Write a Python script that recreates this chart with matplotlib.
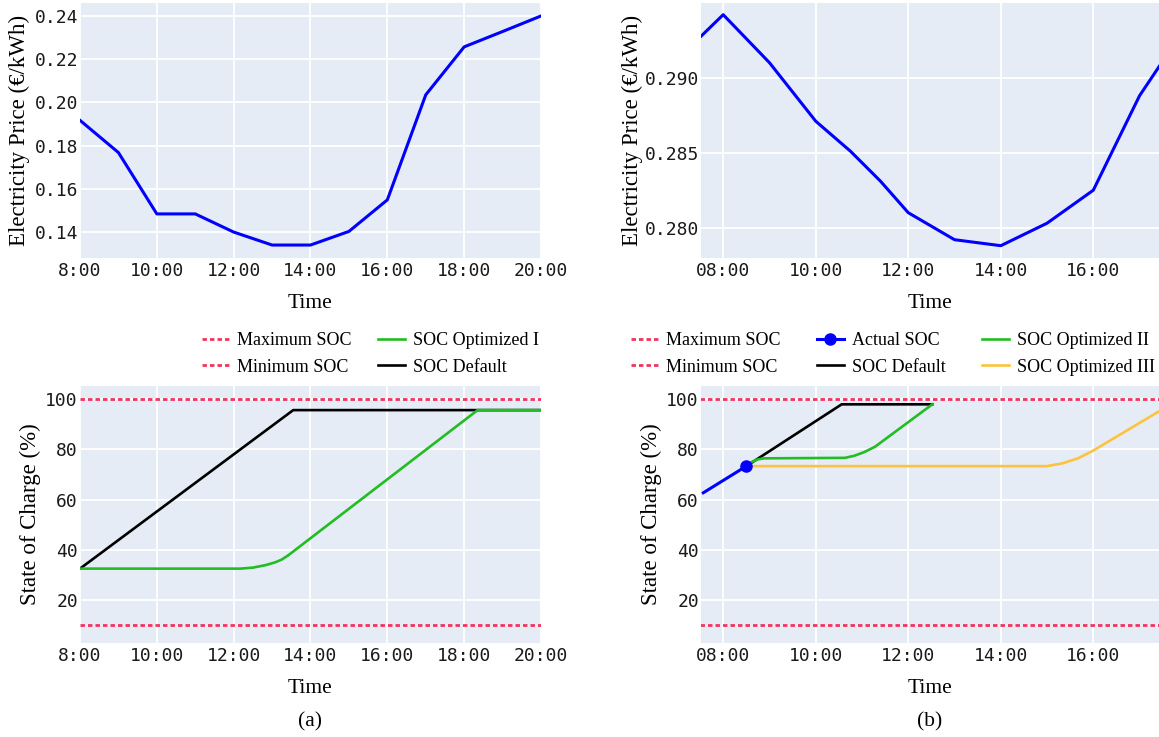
import matplotlib
matplotlib.use("Agg")
import matplotlib.pyplot as plt
from matplotlib.lines import Line2D
from matplotlib.legend_handler import HandlerLine2D

plt.rcParams['font.family'] = ['Liberation Serif', 'DejaVu Serif']
plt.rcParams['lines.scale_dashes'] = False

# --- data (hours as decimal) ---
price_a_t = [8, 9, 10, 11, 12, 13, 14, 15, 16, 17, 18, 19, 20]
price_a = [0.1917, 0.1768, 0.1484, 0.1484, 0.1400, 0.1340, 0.1340,
           0.1403, 0.1549, 0.2035, 0.2257, 0.2328, 0.2400]

price_b_t = [7.5, 8, 9, 10, 10.75, 11.4, 12, 13, 14, 15, 16, 17, 17.5]
price_b = [0.2927, 0.2942, 0.2910, 0.2871, 0.2851, 0.2831, 0.2810,
           0.2792, 0.2788, 0.2803, 0.2825, 0.2888, 0.2911]

soc_max = 100
soc_min = 10

default_a_t = [8.0, 13.55, 20.0]
default_a = [32.5, 95.6, 95.6]
opt1_t = [8.0, 12.0, 12.17, 12.5, 12.83, 13.08, 13.25, 13.42, 18.35, 20.0]
opt1 = [32.5, 32.5, 32.5, 32.9, 33.9, 35.0, 36.1, 37.8, 95.6, 95.6]

actual_t = [7.57, 8.5]
actual = [62.7, 73.3]
default_b_t = [8.5, 10.56, 12.52]
default_b = [73.3, 97.9, 97.9]
opt2_t = [8.5, 8.62, 8.75, 8.88, 10.63, 10.83, 11.05, 11.28, 12.52]
opt2 = [73.3, 75.0, 76.0, 76.4, 76.6, 77.4, 78.9, 81.0, 97.9]
opt3_t = [8.5, 15.0, 15.33, 15.67, 16.0, 17.5]
opt3 = [73.3, 73.3, 74.4, 76.4, 79.5, 96.0]

W, H = 1159, 737
fig = plt.figure(figsize=(W / 100, H / 100), dpi=100)


def px_axes(l, t, r, b):
    return fig.add_axes([l / W, 1 - b / H, (r - l) / W, (b - t) / H])


def style(ax):
    ax.set_facecolor('#E5ECF6')
    ax.grid(True, color='white', lw=1.3)
    ax.set_axisbelow(True)
    for s in ax.spines.values():
        s.set_visible(False)
    ax.tick_params(length=0)
    ax.tick_params(axis='y', pad=1.5)
    ax.tick_params(axis='x', pad=3)


mono = dict(fontfamily='DejaVu Sans Mono', fontsize=13, color='#1a1a1a')
red = '#F2355F'
green = '#22BD22'
yellow = '#FDC33E'
blue = '#0000FF'

ticks_a = [8, 10, 12, 14, 16, 18, 20]
ticks_b = [8, 10, 12, 14, 16]

# top-left price
ax1 = px_axes(80, 3, 541, 258)
style(ax1)
ax1.plot(price_a_t, price_a, color=blue, lw=2.2)
ax1.set_xlim(8, 20)
ax1.set_ylim(0.128, 0.246)
ax1.set_xticks(ticks_a, [f"{h}:00" for h in ticks_a], **mono)
yt = [0.14, 0.16, 0.18, 0.20, 0.22, 0.24]
ax1.set_yticks(yt, [f"{v:.2f}" for v in yt], **mono)
ax1.set_xlabel('Time', fontsize=15.5, labelpad=10)
ax1.set_ylabel('Electricity Price (€/kWh)', fontsize=16.5, labelpad=3)

# top-right price
ax2 = px_axes(701, 3, 1159, 258)
style(ax2)
ax2.plot(price_b_t, price_b, color=blue, lw=2.2)
ax2.set_xlim(7.52, 17.42)
ax2.set_ylim(0.27798, 0.29498)
ax2.set_xticks(ticks_b, [f"{h:02d}:00" for h in ticks_b], **mono)
yt = [0.280, 0.285, 0.290]
ax2.set_yticks(yt, [f"{v:.3f}" for v in yt], **mono)
ax2.set_xlabel('Time', fontsize=15.5, labelpad=10)
ax2.set_ylabel('Electricity Price (€/kWh)', fontsize=16.5, labelpad=1)

dash = (0, (3.2, 2.2))
soc_ticks = [20, 40, 60, 80, 100]

# bottom-left SOC
ax3 = px_axes(80, 386, 541, 643)
style(ax3)
l_max, = ax3.plot([8, 20], [soc_max, soc_max], color=red, lw=2, ls=dash)
l_min, = ax3.plot([8, 20], [soc_min, soc_min], color=red, lw=2, ls=dash)
l_def, = ax3.plot(default_a_t, default_a, color='black', lw=1.9)
l_opt1, = ax3.plot(opt1_t, opt1, color=green, lw=1.9)
ax3.set_xlim(8, 20)
ax3.set_ylim(2.9, 105.2)
ax3.set_xticks(ticks_a, [f"{h}:00" for h in ticks_a], **mono)
ax3.set_yticks(soc_ticks, [str(v) for v in soc_ticks], **mono)
ax3.set_xlabel('Time', fontsize=15.5, labelpad=10)
ax3.set_ylabel('State of Charge (%)', fontsize=16.5, labelpad=3)

# bottom-right SOC
ax4 = px_axes(701, 386, 1159, 643)
style(ax4)
r_max, = ax4.plot([7.5, 17.5], [soc_max, soc_max], color=red, lw=2, ls=dash)
r_min, = ax4.plot([7.5, 17.5], [soc_min, soc_min], color=red, lw=2, ls=dash)
r_def, = ax4.plot(default_b_t, default_b, color='black', lw=1.9)
r_opt2, = ax4.plot(opt2_t, opt2, color=green, lw=1.9)
r_opt3, = ax4.plot(opt3_t, opt3, color=yellow, lw=1.9)
r_act, = ax4.plot(actual_t, actual, color=blue, lw=2.2)
ax4.plot(actual_t[-1:], actual[-1:], 'o', color=blue, ms=8, zorder=5)
ax4.set_xlim(7.52, 17.42)
ax4.set_ylim(2.9, 105.2)
ax4.set_xticks(ticks_b, [f"{h:02d}:00" for h in ticks_b], **mono)
ax4.set_yticks(soc_ticks, [str(v) for v in soc_ticks], **mono)
ax4.set_xlabel('Time', fontsize=15.5, labelpad=10)
ax4.set_ylabel('State of Charge (%)', fontsize=16.5, labelpad=3)


class RightMarker(HandlerLine2D):
    def get_xdata(self, legend, xdescent, ydescent, width, height, fontsize):
        xdata, _ = super().get_xdata(legend, xdescent, ydescent, width, height, fontsize)
        return xdata, [-xdescent + 0.8 * width]


act_handle = Line2D([], [], color=blue, lw=2.2, marker='o', ms=8)

leg_kw = dict(frameon=False, fontsize=13, borderpad=0, borderaxespad=0,
              handlelength=1.5, handletextpad=0.45, labelspacing=0.5)
fig.legend([l_max, l_min, l_opt1, l_def],
           ['Maximum SOC', 'Minimum SOC', 'SOC Optimized I', 'SOC Default'],
           ncol=2, loc='center left', bbox_to_anchor=(202 / W, 1 - 354 / H),
           columnspacing=1.45, **leg_kw)
fig.legend([r_max, r_min, act_handle, r_def, r_opt2, r_opt3],
           ['Maximum SOC', 'Minimum SOC', 'Actual SOC', 'SOC Default',
            'SOC Optimized II', 'SOC Optimized III'],
           ncol=3, loc='center left', bbox_to_anchor=(631 / W, 1 - 354 / H),
           columnspacing=2.0, handler_map={act_handle: RightMarker()}, **leg_kw)

fig.text(310 / W, 1 - 722 / H, '(a)', ha='center', va='center', fontsize=15.5)
fig.text(930 / W, 1 - 722 / H, '(b)', ha='center', va='center', fontsize=15.5)

fig.savefig('out.png', dpi=100)
